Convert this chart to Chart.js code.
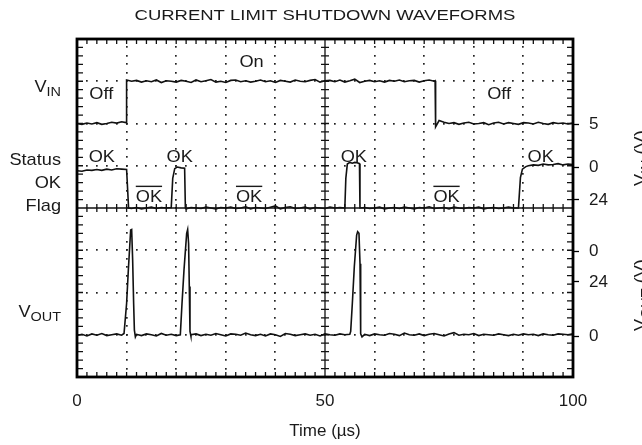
<!DOCTYPE html>
<html>
<head>
<meta charset="utf-8">
<script src="https://cdn.jsdelivr.net/npm/chart.js@4.4.1/dist/chart.umd.min.js"></script>
<style>
  html, body { margin: 0; padding: 0; background: #fff; }
  #wrap { width: 642px; height: 445px; }
</style>
</head>
<body>
<div id="wrap"><canvas id="scope"></canvas></div>
<script>
// scope screen: x in microseconds, y in divisions (0 = bottom edge, 8 = top edge)
const chartTitle = 'CURRENT LIMIT SHUTDOWN WAVEFORMS';
const xTickValues = [0, 50, 100];
const rightTickValues = [5.98, 4.97, 4.19, 2.97, 2.25, 0.97];
const rightTickLabels = ['5', '0', '24', '0', '24', '0'];

// V_IN trace
const vinTime = [
  0, 1, 2, 3, 4, 5, 6, 7, 8, 9, 9.9,
  10, 11, 12, 13, 14, 15, 16, 17, 18, 19,
  20, 21, 22, 23, 24, 25, 26, 27, 28, 29,
  30, 31, 32, 33, 34, 35, 36, 37, 38, 39,
  40, 41, 42, 43, 44, 45, 46, 47, 48, 49,
  50, 51, 52, 53, 54, 55, 56, 57, 58, 59,
  60, 61, 62, 63, 64, 65, 66, 67, 68, 69,
  70, 71, 72,
  72.2, 72.3, 73, 74,
  75, 76, 77, 78, 79, 80, 81, 82, 83, 84,
  85, 86, 87, 88, 89, 90, 91, 92, 93, 94,
  95, 96, 97, 98, 99, 100
];
const vinLevel = [
  6.00, 5.98, 6.01, 5.99, 6.02, 5.98, 6.00, 6.03, 6.01, 6.04, 6.02,
  7.03, 7.00, 7.02, 6.98, 7.01, 6.99, 7.03, 6.97, 7.01, 7.00,
  6.98, 7.02, 7.00, 6.97, 7.03, 6.99, 7.01, 7.04, 6.98, 7.00,
  6.97, 7.02, 7.03, 6.99, 7.01, 6.98, 7.00, 7.03, 6.99, 7.01,
  6.97, 7.02, 7.00, 6.98, 7.03, 7.00, 6.99, 7.02, 7.04, 6.98,
  7.01, 7.02, 6.99, 7.03, 6.98, 7.01, 7.05, 6.97, 7.00, 7.02,
  6.99, 7.01, 6.98, 7.02, 7.00, 7.03, 6.99, 7.01, 7.02, 6.98,
  7.01, 7.03, 7.00,
  7.01, 5.92, 6.07, 6.03,
  6.00, 6.02, 5.98, 6.01, 6.03, 5.99, 6.00, 6.02, 5.97, 6.01,
  6.03, 5.99, 6.02, 6.00, 5.98, 6.02, 6.01, 5.99, 6.03, 6.00,
  5.98, 6.02, 6.00, 6.01, 5.99, 6.01
];

// Status OK flag trace
const flagTime = [
  0, 1, 2, 3, 4, 5, 6, 7, 8, 9, 10,
  10.4, 11, 12, 13, 14, 15, 16, 17, 18, 19,
  19.3, 19.7, 20.2, 21, 21.7, 21.85,
  22, 23, 24, 25, 26, 27, 28, 29, 30, 31,
  32, 33, 34, 35, 36, 37, 38, 39, 40, 41,
  42, 43, 44, 45, 46, 47, 48, 49, 50, 51,
  52, 53, 54,
  54.2, 54.5, 55, 55.5, 56, 56.5, 56.95, 57.05,
  58, 59, 60, 61, 62, 63, 64, 65, 66, 67,
  68, 69, 70, 71, 72, 73, 74, 75, 76, 77,
  78, 79, 80, 81, 82, 83, 84, 85, 86, 87,
  88, 89,
  89.4, 89.8, 90.5,
  91, 92, 93, 94, 95, 96, 97, 98, 99, 100
];
const flagLevel = [
  4.88, 4.87, 4.90, 4.89, 4.91, 4.89, 4.92, 4.90, 4.93, 4.92, 4.91,
  4.00, 3.99, 4.01, 3.98, 4.00, 4.02, 3.99, 4.01, 4.00, 4.01,
  4.70, 4.93, 4.97, 4.95, 4.94, 4.00,
  3.98, 4.01, 4.00, 3.99, 4.02, 4.00, 3.98, 4.01, 4.00, 4.02,
  3.99, 4.00, 4.03, 3.98, 4.01, 4.00, 3.99, 4.02, 4.05, 3.98,
  4.01, 4.03, 3.99, 4.00, 4.02, 3.98, 4.01, 4.00, 3.99, 4.02,
  4.00, 4.01, 4.00,
  4.70, 5.04, 5.08, 5.06, 5.08, 5.07, 5.05, 4.00,
  4.01, 3.99, 4.00, 4.02, 3.98, 4.00, 4.01, 3.99, 4.02, 4.00,
  3.98, 4.01, 4.00, 4.03, 3.99, 4.00, 4.01, 3.98, 4.02, 4.00,
  3.99, 4.01, 4.00, 4.02, 3.98, 4.00, 4.01, 3.99, 4.00, 4.02,
  4.00, 4.00,
  4.72, 4.92, 4.98,
  5.00, 5.02, 5.01, 5.04, 5.02, 5.03, 5.05, 5.02, 5.04, 5.03
];

// V_OUT trace
const voutTime = [
  0, 1, 2, 3, 4, 5, 6, 7, 8, 9,
  9.48, 10.0, 10.35, 10.82, 11.02, 11.22, 11.42, 11.57, 11.77,
  12, 13, 14, 15, 16, 17, 18, 19, 20,
  20.83, 21.17, 21.57, 22.11, 22.31, 22.5, 22.64, 22.78, 22.98,
  23, 24, 25, 26, 27, 28, 29, 30, 31, 32,
  33, 34, 35, 36, 37, 38, 39, 40, 41, 42,
  43, 44, 45, 46, 47, 48, 49, 50, 51, 52,
  53, 54, 55,
  55.18, 55.51, 55.91, 56.38, 56.58, 56.85, 57.06, 57.19, 57.46,
  58, 59, 60, 61, 62, 63, 64, 65, 66, 67,
  68, 69, 70, 71, 72, 73, 74, 75, 76, 77,
  78, 79, 80, 81, 82, 83, 84, 85, 86, 87,
  88, 89, 90, 91, 92, 93, 94, 95, 96, 97,
  98, 99, 100
];
const voutLevel = [
  0.98, 1.01, 0.97, 1.02, 0.99, 1.03, 0.98, 1.00, 1.02, 0.99,
  1.03, 1.74, 2.53, 3.48, 3.49, 2.77, 1.74, 1.11, 0.95,
  1.01, 0.98, 1.02, 1.00, 0.97, 1.03, 0.99, 1.01, 0.98,
  1.00, 1.74, 2.53, 3.40, 3.49, 3.16, 2.14, 1.08, 0.96,
  1.00, 1.02, 0.98, 1.01, 0.99, 1.03, 1.00, 0.97, 1.02, 1.01,
  0.99, 1.04, 1.00, 0.98, 1.01, 0.97, 1.02, 1.00, 0.96, 1.03,
  1.01, 0.98, 1.00, 1.02, 0.99, 1.01, 0.97, 1.02, 1.00, 0.99,
  1.02, 1.00, 1.01,
  1.08, 1.74, 2.61, 3.36, 3.44, 3.40, 2.68, 1.02, 0.95,
  1.01, 0.98, 1.02, 1.00, 0.99, 1.03, 1.01, 0.98, 1.04, 1.00,
  0.99, 1.02, 0.98, 1.01, 1.03, 1.00, 0.97, 1.02, 1.05, 0.99,
  1.01, 1.00, 1.03, 0.98, 1.01, 1.00, 0.99, 1.02, 1.00, 0.98,
  1.01, 0.99, 1.02, 1.00, 1.01, 0.98, 1.02, 1.00, 0.99, 1.02,
  1.01, 1.00, 1.02
];

// annotations written on the screen
const noteText = ['On', 'Off', 'Off', 'OK', 'OK', 'OK', 'OK', 'OK', 'OK', 'OK'];
const noteTime = [35.2, 4.9, 85.1, 5.0, 20.7, 55.8, 93.5, 14.5, 34.7, 74.5];
const noteLevel = [7.34, 6.57, 6.57, 5.08, 5.08, 5.08, 5.08, 4.15, 4.15, 4.15];
const noteOverline = [false, false, false, false, false, false, false, true, true, true];

// channel names on the left, axis names on the right
const leftLabelMain = ['V', 'Status', 'OK', 'Flag', 'V'];
const leftLabelSub = ['IN', '', '', '', 'OUT'];
const leftLabelLevel = [6.75, 5.02, 4.48, 3.94, 1.43];
const rightTitleSub = ['IN', 'OUT'];
const rightTitleLevel = [5.18, 1.94];

const FONT = '"Liberation Sans", Arial, Helvetica, sans-serif';
const INK = '#1a1a1a';
const SX = 1.07;       // the scanned lettering is a bit wide
const X_MINOR = 2;     // µs per minor mark
const Y_MINOR = 0.2;   // divisions per minor mark

function toPoints(ts, vs) {
    return ts.map((t, i) => ({x: t, y: vs[i]}));
}

function runsWidth(ctx, runs) {
    let w = 0;
    runs.forEach(r => {
        ctx.font = (r.sub ? '13.5px ' : '17px ') + FONT;
        w += ctx.measureText(r.t).width * SX;
    });
    return w;
}

function drawRuns(ctx, runs, x, y) {
    runs.forEach(r => {
        ctx.font = (r.sub ? '13.5px ' : '17px ') + FONT;
        ctx.save();
        ctx.translate(x, y + (r.sub ? 4 : 0));
        ctx.scale(SX, 1);
        ctx.fillText(r.t, 0, 0);
        ctx.restore();
        x += ctx.measureText(r.t).width * SX;
    });
}

// dotted graticule, centre cross and minor marks
const scopeGrid = {
    id: 'scopeGrid',
    beforeDatasetsDraw(chart) {
        const {ctx, chartArea: a, scales: {x, y}} = chart;
        const px = i => x.getPixelForValue(i * X_MINOR);
        const py = j => y.getPixelForValue(j * Y_MINOR);
        ctx.save();
        ctx.fillStyle = '#222';
        for (let i = 5; i < 50; i += 5) {
            if (i === 25) continue;
            for (let j = 1; j < 40; j++) ctx.fillRect(Math.round(px(i)) - 1, Math.round(py(j)) - 1, 1.7, 1.7);
        }
        for (let j = 5; j < 40; j += 5) {
            if (j === 20) continue;
            for (let i = 1; i < 50; i++) ctx.fillRect(Math.round(px(i)) - 1, Math.round(py(j)) - 1, 1.7, 1.7);
        }
        const cx = px(25), cy = py(20);
        ctx.strokeStyle = '#111';
        ctx.lineWidth = 1.3;
        ctx.beginPath();
        ctx.moveTo(a.left, cy); ctx.lineTo(a.right, cy);
        ctx.moveTo(cx, a.top); ctx.lineTo(cx, a.bottom);
        for (let i = 1; i < 50; i++) {
            const p = px(i);
            ctx.moveTo(p, a.top); ctx.lineTo(p, a.top + 5);
            ctx.moveTo(p, a.bottom); ctx.lineTo(p, a.bottom - 5);
            ctx.moveTo(p, cy - 4); ctx.lineTo(p, cy + 4);
        }
        for (let j = 1; j < 40; j++) {
            const p = py(j);
            ctx.moveTo(a.left, p); ctx.lineTo(a.left + 6, p);
            ctx.moveTo(a.right, p); ctx.lineTo(a.right - 6, p);
            ctx.moveTo(cx - 4, p); ctx.lineTo(cx + 4, p);
        }
        ctx.stroke();
        ctx.restore();
    },
    afterDatasetsDraw(chart) {
        const {ctx, chartArea: a} = chart;
        ctx.save();
        ctx.strokeStyle = '#000';
        ctx.lineWidth = 2.8;
        ctx.strokeRect(a.left, a.top, a.right - a.left, a.bottom - a.top);
        ctx.restore();
    }
};

// title, channel names, on-screen notes, rotated axis names
const scopeText = {
    id: 'scopeText',
    afterDraw(chart) {
        const {ctx, chartArea: a, scales: {x, y}} = chart;
        ctx.save();
        ctx.fillStyle = INK;
        ctx.textAlign = 'left';
        ctx.textBaseline = 'alphabetic';

        ctx.font = '14px ' + FONT;
        const tw = ctx.measureText(chartTitle).width * 1.32;
        ctx.save();
        ctx.translate((a.left + a.right) / 2 - tw / 2, 20);
        ctx.scale(1.32, 1);
        ctx.fillText(chartTitle, 0, 0);
        ctx.restore();

        leftLabelMain.forEach((m, i) => {
            const runs = [{t: m}, {t: leftLabelSub[i], sub: true}];
            const w = runsWidth(ctx, runs);
            drawRuns(ctx, runs, a.left - 16 - w, y.getPixelForValue(leftLabelLevel[i]));
        });

        noteText.forEach((s, i) => {
            const runs = [{t: s}];
            const w = runsWidth(ctx, runs);
            const cx = x.getPixelForValue(noteTime[i]);
            const by = y.getPixelForValue(noteLevel[i]);
            drawRuns(ctx, runs, cx - w / 2, by);
            if (noteOverline[i]) ctx.fillRect(cx - w / 2, by - 16, w, 1.4);
        });

        rightTitleSub.forEach((sub, i) => {
            const runs = [{t: 'V'}, {t: sub, sub: true}, {t: ' (V)'}];
            const w = runsWidth(ctx, runs);
            ctx.save();
            ctx.translate(a.right + 73, y.getPixelForValue(rightTitleLevel[i]));
            ctx.rotate(-Math.PI / 2);
            drawRuns(ctx, runs, -w / 2, 0);
            ctx.restore();
        });
        ctx.restore();
    }
};

const traceStyle = {borderColor: '#111', borderWidth: 1.6, pointRadius: 0, fill: false, tension: 0};

new Chart(document.getElementById('scope'), {
    type: 'line',
    data: {
        datasets: [
            {label: 'VIN', data: toPoints(vinTime, vinLevel), ...traceStyle},
            {label: 'Status OK Flag', data: toPoints(flagTime, flagLevel), ...traceStyle},
            {label: 'VOUT', data: toPoints(voutTime, voutLevel), ...traceStyle}
        ]
    },
    options: {
        responsive: true,
        maintainAspectRatio: false,
        animation: false,
        devicePixelRatio: 1,
        layout: {padding: {top: 39, left: 0, right: 0, bottom: 0}},
        plugins: {
            legend: {display: false},
            title: {display: false},
            tooltip: {enabled: false}
        },
        scales: {
            x: {
                type: 'linear',
                min: 0,
                max: 100,
                afterBuildTicks: s => { s.ticks = xTickValues.map(v => ({value: v})); },
                grid: {display: false, drawTicks: false},
                border: {display: false},
                ticks: {
                    font: {family: FONT, size: 17},
                    color: INK,
                    padding: 14,
                    maxRotation: 0,
                    autoSkip: false
                },
                title: {
                    display: true,
                    text: 'Time (µs)',
                    font: {family: FONT, size: 17},
                    color: INK,
                    padding: {top: 0, bottom: 3}
                },
                afterFit: s => { s.height = 68; }
            },
            y: {
                type: 'linear',
                min: 0,
                max: 8,
                ticks: {display: false},
                grid: {display: false, drawTicks: false},
                border: {display: false},
                afterFit: s => { s.width = 77; }
            },
            y2: {
                type: 'linear',
                position: 'right',
                min: 0,
                max: 8,
                afterBuildTicks: s => { s.ticks = rightTickValues.map(v => ({value: v})); },
                ticks: {
                    callback: (v, i) => rightTickLabels[i],
                    font: {family: FONT, size: 17},
                    color: INK,
                    padding: 10,
                    autoSkip: false
                },
                grid: {drawOnChartArea: false, drawTicks: true, tickLength: 6, tickColor: '#000', tickWidth: 1.3},
                border: {display: false},
                afterFit: s => { s.width = 69; }
            }
        }
    },
    plugins: [scopeGrid, scopeText]
});
</script>
</body>
</html>
